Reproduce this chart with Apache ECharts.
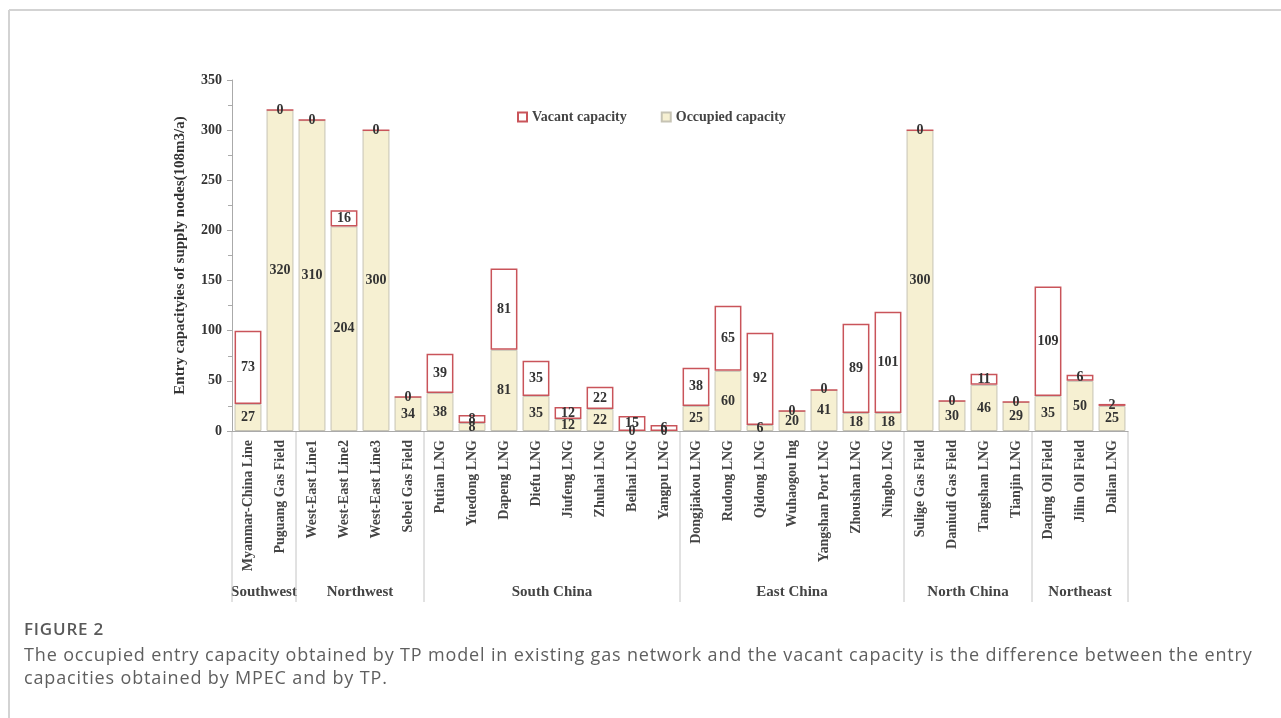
<!DOCTYPE html>
<html>
<head>
<meta charset="utf-8">
<title>Entry capacities of supply nodes</title>
<script src="https://cdn.jsdelivr.net/npm/echarts@6/dist/echarts.min.js"></script>
<style>
    html, body { margin: 0; padding: 0; background: #fff; }
    #wrap { position: relative; width: 1281px; height: 718px; overflow: hidden; }
    #main { position: absolute; left: 0; top: 0; width: 1281px; height: 718px; }
    #caption {
        position: absolute; left: 24px; top: 615px; width: 1250px;
        font-family: "Open Sans", sans-serif; color: #5f5f5f;
    }
    #caption .title { font-size: 17px; font-weight: 600; letter-spacing: 0.8px; color: #595959; line-height: 28px; }
    #caption .text { font-size: 18px; letter-spacing: 0.85px; line-height: 23px; white-space: nowrap; }
</style>
</head>
<body>
<div id="wrap">
    <div id="main"></div>
    <div id="caption"></div>
</div>
<script>
// supply nodes, in axis order
var nodes = [
    "Myanmar-China Line", "Puguang Gas Field",
    "West-East Line1", "West-East Line2", "West-East Line3", "Sebei Gas Field",
    "Putian LNG", "Yuedong LNG", "Dapeng LNG", "Diefu LNG", "Jiufeng LNG", "Zhuhai LNG", "Beihai LNG", "Yangpu LNG",
    "Dongjiakou LNG", "Rudong LNG", "Qidong LNG", "Wuhaogou lng", "Yangshan Port LNG", "Zhoushan LNG", "Ningbo LNG",
    "Sulige Gas Field", "Daniudi Gas Field", "Tangshan LNG", "Tianjin LNG",
    "Daqing Oil Field", "Jilin Oil Field", "Dalian LNG"
];
var occupied = [
    27, 320,
    310, 204, 300, 34,
    38, 8, 81, 35, 12, 22, 0, 0,
    25, 60, 6, 20, 41, 18, 18,
    300, 30, 46, 29,
    35, 50, 25
];
var vacant = [
    73, 0,
    0, 16, 0, 0,
    39, 8, 81, 35, 12, 22, 15, 6,
    38, 65, 92, 0, 0, 89, 101,
    0, 0, 11, 0,
    109, 6, 2
];
var regions = ["Southwest", "Northwest", "South China", "East China", "North China", "Northeast"];
var regionSizes = [2, 4, 8, 7, 4, 3];
var yMin = 0, yMax = 350, yStep = 50;

var serif = "Liberation Serif";
var captionTitle = "FIGURE 2";
var captionLines = [
    "The occupied entry capacity obtained by TP model in existing gas network and the vacant capacity is the difference between the entry",
    "capacities obtained by MPEC and by TP."
];

var cap = document.getElementById("caption");
var t = document.createElement("div");
t.className = "title";
t.textContent = captionTitle;
cap.appendChild(t);
captionLines.forEach(function (line) {
    var d = document.createElement("div");
    d.className = "text";
    d.textContent = line;
    cap.appendChild(d);
});

var chart = echarts.init(document.getElementById("main"));

var labelStyle = {
    show: true,
    position: "inside",
    color: "#333",
    fontFamily: serif,
    fontWeight: "bold",
    fontSize: 14
};

chart.setOption({
    animation: false,
    grid: { left: 232, right: 153, top: 80, bottom: 287 },
    legend: {
        left: 512,
        top: 105,
        itemWidth: 9,
        itemHeight: 9,
        itemGap: 34,
        icon: "rect",
        textStyle: { fontFamily: serif, fontWeight: "bold", fontSize: 14, color: "#444" },
        data: ["Vacant capacity", "Occupied capacity"]
    },
    xAxis: {
        type: "category",
        data: nodes,
        axisLine: { lineStyle: { color: "#aaa" } },
        axisTick: { show: false },
        axisLabel: {
            rotate: 90,
            interval: 0,
            margin: 9,
            fontFamily: serif,
            fontWeight: "bold",
            fontSize: 14,
            color: "#444"
        }
    },
    yAxis: {
        type: "value",
        min: yMin,
        max: yMax,
        interval: yStep,
        name: "Entry capacityies of supply nodes(108m3/a)",
        nameLocation: "middle",
        nameGap: 44,
        nameTextStyle: { fontFamily: serif, fontWeight: "bold", fontSize: 15, color: "#333" },
        axisLine: { show: true, lineStyle: { color: "#aaa" } },
        axisTick: { show: true, length: 5, lineStyle: { color: "#aaa" } },
        minorTick: { show: true, splitNumber: 2, length: 4, lineStyle: { color: "#aaa" } },
        splitLine: { show: false },
        axisLabel: {
            margin: 10,
            fontFamily: serif,
            fontWeight: "bold",
            fontSize: 14,
            color: "#333"
        }
    },
    series: [
        {
            name: "Occupied capacity",
            type: "bar",
            stack: "cap",
            barCategoryGap: "16%",
            data: occupied,
            itemStyle: { color: "#f6f0d2", borderColor: "#c6c3b4", borderWidth: 1 },
            label: labelStyle
        },
        {
            name: "Vacant capacity",
            type: "bar",
            stack: "cap",
            barCategoryGap: "16%",
            data: vacant,
            itemStyle: { color: "#ffffff", borderColor: "#c9545a", borderWidth: 1.5 },
            label: labelStyle
        }
    ]
});

// region dividers and names under the rotated labels, placed from the axis scale
function drawExtras() {
    var graphics = [];
    var base = chart.convertToPixel({ yAxisIndex: 0 }, 0);
    var c0 = chart.convertToPixel({ xAxisIndex: 0 }, 0);
    var c1 = chart.convertToPixel({ xAxisIndex: 0 }, 1);
    var w = c1 - c0;
    var start = 0;
    var edges = [c0 - w / 2];
    regions.forEach(function (name, k) {
        var end = start + regionSizes[k] - 1;
        var left = chart.convertToPixel({ xAxisIndex: 0 }, start) - w / 2;
        var right = chart.convertToPixel({ xAxisIndex: 0 }, end) + w / 2;
        edges.push(right);
        graphics.push({
            type: "text",
            x: (left + right) / 2,
            y: 592,
            style: {
                text: name,
                x: 0, y: 0,
                align: "center",
                verticalAlign: "middle",
                font: "bold 15px '" + serif + "'",
                fill: "#444"
            }
        });
        start = end + 1;
    });
    edges.forEach(function (x) {
        graphics.push({
            type: "line",
            shape: { x1: x, y1: base, x2: x, y2: 602 },
            style: { stroke: "#c4c4c4", lineWidth: 1 }
        });
    });

    // page frame
    graphics.push({ type: "line", shape: { x1: 9, y1: 10, x2: 1281, y2: 10 }, style: { stroke: "#d3d3d3", lineWidth: 2 } });
    graphics.push({ type: "line", shape: { x1: 9, y1: 10, x2: 9, y2: 718 }, style: { stroke: "#d3d3d3", lineWidth: 2 } });

    chart.setOption({ graphic: graphics });
}
drawExtras();
</script>
</body>
</html>
